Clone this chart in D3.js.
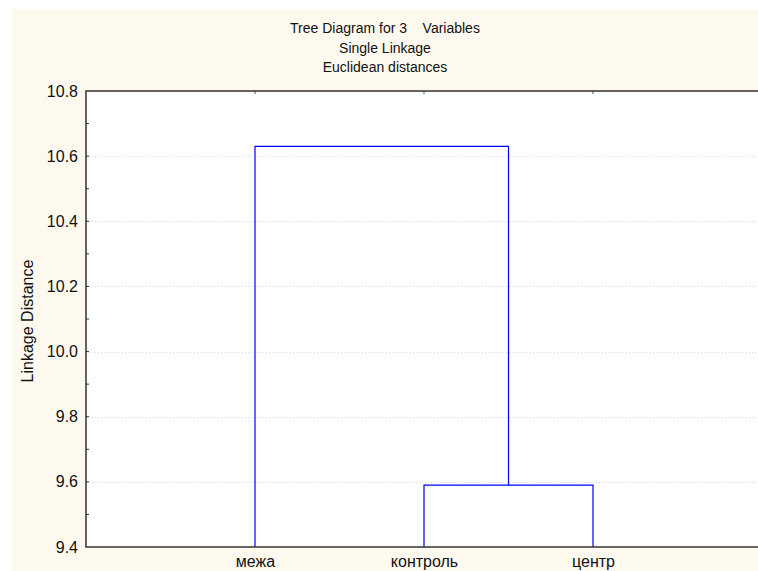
<!DOCTYPE html>
<html>
<head>
<meta charset="utf-8">
<script src="https://cdn.jsdelivr.net/npm/d3@7"></script>
<style>
  html, body { margin: 0; padding: 0; background: #ffffff; }
  svg { display: block; font-family: "Liberation Sans", Arial, sans-serif; }
  text { white-space: pre; }
</style>
</head>
<body>
<svg id="chart" width="758" height="571"></svg>
<script>
// Leaves in display order (positions 1..3 on the x scale)
const leaves = ["межа", "контроль", "центр"];
// Linkage distances at which clusters join
const mergeHeight = [9.59, 10.63];
const yTicks = [9.4, 9.6, 9.8, 10.0, 10.2, 10.4, 10.6, 10.8];
const yMinorTicks = [9.5, 9.7, 9.9, 10.1, 10.3, 10.5, 10.7];
const titles = ["Tree Diagram for 3    Variables", "Single Linkage", "Euclidean distances"];

const svg = d3.select("#chart");
const W = 758, H = 571;
const plot = { left: 86, top: 91, right: 762, bottom: 547 };

// Cream panel
svg.append("rect").attr("x", 12).attr("y", 9).attr("width", W - 12).attr("height", H - 9)
  .attr("fill", "#fdf9ef");
// White plotting area
svg.append("rect").attr("x", plot.left).attr("y", plot.top)
  .attr("width", plot.right - plot.left).attr("height", plot.bottom - plot.top)
  .attr("fill", "#ffffff");

const x = d3.scaleLinear().domain([0, 4]).range([plot.left, plot.right]);
const y = d3.scaleLinear().domain([9.4, 10.8]).range([plot.bottom, plot.top]);

// Dotted grid lines
svg.append("g").selectAll("line")
  .data(yTicks.filter(v => v > 9.4 && v < 10.8))
  .join("line")
  .attr("x1", plot.left).attr("x2", W)
  .attr("y1", d => Math.round(y(d)) + 0.5).attr("y2", d => Math.round(y(d)) + 0.5)
  .attr("stroke", "#d8d8d8").attr("stroke-width", 1).attr("stroke-dasharray", "1,2");

// Dendrogram links
const linkColor = "#0000ff";
const g = svg.append("g").attr("fill", "none").attr("stroke", linkColor).attr("stroke-width", 1.2);
// Lower merge: контроль + центр
g.append("path").attr("d",
  `M${x(2)},${y(9.4)} V${y(mergeHeight[0])} H${x(3)} V${y(9.4)}`);
// Upper merge: межа + (контроль, центр), joined at the midpoint of the lower cluster
g.append("path").attr("d",
  `M${x(1)},${y(9.4)} V${y(mergeHeight[1])} H${x(2.5)} V${y(mergeHeight[0])}`);

// Y axis (left)
const yAxis = d3.axisLeft(y).tickValues(yTicks).tickFormat(d3.format(".1f")).tickSize(0).tickPadding(8);
const ya = svg.append("g").attr("transform", `translate(${plot.left},0)`).call(yAxis);
ya.select(".domain").remove();
ya.selectAll("text").attr("font-size", 16).attr("fill", "#111")
  .attr("font-family", "'Liberation Sans', Arial, sans-serif");

// Inward minor/major ticks on left axis
svg.append("g").selectAll("line")
  .data(yMinorTicks.concat(yTicks.filter(v => v > 9.4 && v < 10.8)))
  .join("line")
  .attr("x1", plot.left).attr("x2", plot.left + 3)
  .attr("y1", d => y(d)).attr("y2", d => y(d))
  .attr("stroke", "#333").attr("stroke-width", 1);

// X axis labels
const xAxis = d3.axisBottom(x).tickValues([1, 2, 3]).tickFormat(d => leaves[d - 1]).tickSize(0).tickPadding(9);
const xa = svg.append("g").attr("transform", `translate(0,${plot.bottom})`).call(xAxis);
xa.select(".domain").remove();
xa.selectAll("text").attr("font-size", 16).attr("fill", "#111")
  .attr("font-family", "'Liberation Sans', Arial, sans-serif");

// Top inward ticks at leaf positions
svg.append("g").selectAll("line").data([1, 2, 3]).join("line")
  .attr("x1", d => x(d)).attr("x2", d => x(d))
  .attr("y1", plot.top).attr("y2", plot.top + 3)
  .attr("stroke", "#555").attr("stroke-width", 1);

// Frame
svg.append("path")
  .attr("d", `M${W},${plot.top} H${plot.left} V${plot.bottom} H${W}`)
  .attr("fill", "none").attr("stroke", "#333").attr("stroke-width", 1.5);

// Titles
svg.append("g").selectAll("text").data(titles).join("text")
  .attr("x", 385).attr("y", (d, i) => 33 + i * 19.5)
  .attr("text-anchor", "middle").attr("font-size", 14).attr("fill", "#111")
  .attr("xml:space", "preserve")
  .text(d => d);

// Y axis title
svg.append("text")
  .attr("transform", `translate(33,${(plot.top + plot.bottom) / 2 + 2}) rotate(-90)`)
  .attr("text-anchor", "middle").attr("font-size", 16).attr("fill", "#111")
  .text("Linkage Distance");
</script>
</body>
</html>
